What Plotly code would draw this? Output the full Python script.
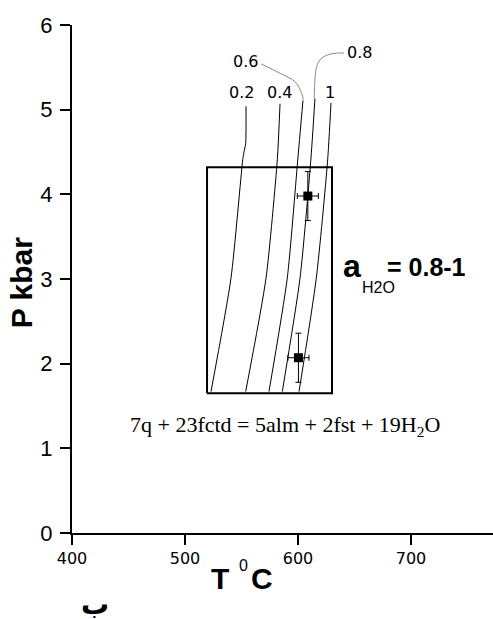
import plotly.graph_objects as go

# ---------------- data ----------------
iso_labels = ["0.2", "0.4", "0.6", "0.8", "1"]
iso_02_T = [554.0, 553.7, 552.2, 551.1, 540.7, 523.0]
iso_02_P = [5.04, 4.60, 4.50, 4.41, 3.01, 1.67]
iso_04_T = [584.1, 581.7, 571.7, 553.7]
iso_04_P = [5.07, 4.41, 3.01, 1.67]
iso_06_T = [604.4, 599.6, 590.5, 574.3]
iso_06_P = [5.11, 4.38, 3.01, 1.67]
iso_08_T = [615.0, 611.2, 601.8, 586.1]
iso_08_P = [5.13, 4.38, 3.01, 1.67]
iso_10_T = [629.2, 626.1, 616.2, 600.9]
iso_10_P = [5.08, 4.38, 3.01, 1.67]

leader_06_T = [567.3, 584.1, 597.3, 603.3, 604.7]
leader_06_P = [5.54, 5.43, 5.33, 5.19, 5.12]
leader_08_T = [640.7, 629.8, 621.0, 616.5, 615.0, 614.4]
leader_08_P = [5.67, 5.66, 5.61, 5.51, 5.35, 5.13]

sample_T = [608.7, 600.4]
sample_P = [3.98, 2.07]
sample_T_err = [9.3, 9.3]
sample_P_err = [0.29, 0.29]

box_T = [519.5, 630.1]
box_P = [1.65, 4.32]

x_ticks = [400, 500, 600, 700]
y_ticks = [0, 1, 2, 3, 4, 5, 6]

# ---------------- layout geometry ----------------
W, H = 493, 619
ML, MT, MB = 72, 25, 86
XSCALE = 1.13                      # px per degree C
X0 = 400
X1 = X0 + (W - ML) / XSCALE
PLOT_W = W - ML
PLOT_H = H - MT - MB


def tx(px):
    return X0 + (px - ML) / XSCALE


def ty(py):
    return (MT + PLOT_H - py) / (PLOT_H / 6.0)


def paper_x(px):
    return (px - ML) / PLOT_W


def paper_y(py):
    return (MT + PLOT_H - py) / PLOT_H


fig = go.Figure()

curves = [(iso_02_T, iso_02_P), (iso_04_T, iso_04_P), (iso_06_T, iso_06_P),
          (iso_08_T, iso_08_P), (iso_10_T, iso_10_P)]
for (cx, cy), lab in zip(curves, iso_labels):
    fig.add_trace(go.Scatter(x=cx, y=cy, mode="lines", name=lab,
                             line=dict(color="black", width=1, shape="spline", smoothing=0.6),
                             showlegend=False, hoverinfo="skip"))

for lx, ly in [(leader_06_T, leader_06_P), (leader_08_T, leader_08_P)]:
    fig.add_trace(go.Scatter(x=lx, y=ly, mode="lines",
                             line=dict(color="#8a8a8a", width=1, shape="spline", smoothing=1.0),
                             showlegend=False, hoverinfo="skip"))

# box
fig.add_trace(go.Scatter(
    x=[box_T[0], box_T[1], box_T[1], box_T[0], box_T[0]],
    y=[box_P[0], box_P[0], box_P[1], box_P[1], box_P[0]],
    mode="lines", line=dict(color="black", width=2),
    showlegend=False, hoverinfo="skip"))

# samples
fig.add_trace(go.Scatter(
    x=sample_T, y=sample_P, mode="markers",
    marker=dict(symbol="square", size=9, color="black"),
    error_x=dict(type="data", array=sample_T_err, color="black", thickness=1, width=3),
    error_y=dict(type="data", array=sample_P_err, color="black", thickness=1, width=3),
    showlegend=False))

ann = []
label_px = [(241, 92), (279.3, 92), (245.3, 61.3), (359.5, 52.8), (330, 92)]
for lab, (px, py) in zip(iso_labels, label_px):
    ann.append(dict(x=tx(px), y=ty(py), xref="x", yref="y", text=lab, showarrow=False,
                    xanchor="center", yanchor="middle",
                    font=dict(family="DejaVu Sans", size=16, color="black")))


def pann(px, py, text, size, family="Liberation Sans", angle=0):
    ann.append(dict(x=paper_x(px), y=paper_y(py), xref="paper", yref="paper", text=text,
                    textangle=angle, showarrow=False, xanchor="center", yanchor="middle",
                    font=dict(family=family, size=size, color="black")))


# axis titles
pann(21.7, 282.5, "<b>P kbar</b>", 30, angle=-90)
pann(219.5, 578, "<b>T</b>", 30)
pann(243, 566, "0", 16)
pann(262, 578, "<b>C</b>", 30)

# a_H2O = 0.8-1
pann(351.7, 266, "<b>a</b>", 32)
pann(378.3, 287, "H2O", 16)
pann(426.5, 266.5, "<b>= 0.8-1</b>", 25)

# reaction
pann(285, 426, "7q + 23fctd = 5alm + 2fst + 19H<sub>2</sub>O", 22, family="Liberation Serif")

# arabic letter
pann(95, 604, "<b>ب</b>", 28, family="DejaVu Sans")

fig.update_layout(
    width=W, height=H, autosize=False,
    margin=dict(l=ML, r=0, t=MT, b=MB, pad=0, autoexpand=False),
    paper_bgcolor="white", plot_bgcolor="white",
    annotations=ann,
    xaxis=dict(range=[X0, X1], tickvals=x_ticks, ticktext=[str(v) for v in x_ticks],
               showgrid=False, zeroline=False, showline=True, linecolor="black", linewidth=2,
               ticks="outside", ticklen=10, tickwidth=1.5, tickcolor="black",
               ticklabelstandoff=0, automargin=False,
               tickfont=dict(family="DejaVu Sans", size=16, color="black")),
    yaxis=dict(range=[0, 6], tickvals=y_ticks, ticktext=[str(v) for v in y_ticks],
               showgrid=False, zeroline=False, showline=True, linecolor="black", linewidth=2,
               ticks="outside", ticklen=10, tickwidth=1.5, tickcolor="black",
               ticklabelstandoff=3, automargin=False,
               tickfont=dict(family="Liberation Sans", size=22, color="black")),
)

fig.write_html("out.html", config={"displayModeBar": False},
               post_script="document.body.style.margin='0px';document.body.style.padding='0px';")
